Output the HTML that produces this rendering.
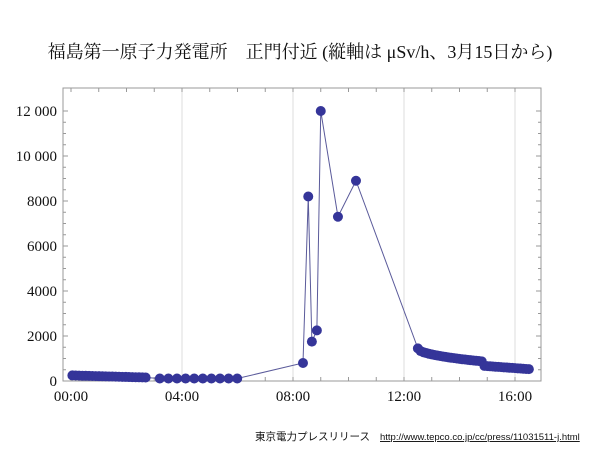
<!DOCTYPE html>
<html><head><meta charset="utf-8"><style>
body{margin:0;background:#fff;width:600px;height:450px;overflow:hidden}
svg{position:absolute;left:0;top:0}
</style></head><body>
<svg id="s" width="600" height="450" xmlns="http://www.w3.org/2000/svg" font-family="Liberation Serif, Noto Serif CJK SC, serif">
<text x="300" y="58" text-anchor="middle" font-size="18" fill="#111" font-family="Liberation Serif, Noto Serif CJK JP, Noto Sans CJK JP, serif">福島第一原子力発電所　正門付近 (縦軸は μSv/h、3月15日から)</text>
<g stroke="#ddd" stroke-width="1">
<line x1="182" y1="88" x2="182" y2="381"/><line x1="293" y1="88" x2="293" y2="381"/><line x1="404" y1="88" x2="404" y2="381"/><line x1="515" y1="88" x2="515" y2="381"/>
</g>
<rect x="63" y="88" width="478" height="293" fill="none" stroke="#999" stroke-width="1"/>
<g id="ticks" stroke="#999" stroke-width="1"></g>
<g font-size="15" fill="#111" text-anchor="end">
<text x="57" y="116">12 000</text><text x="57" y="161">10 000</text><text x="57" y="206">8000</text><text x="57" y="251">6000</text><text x="57" y="296">4000</text><text x="57" y="341">2000</text><text x="57" y="386">0</text>
</g>
<g font-size="15" fill="#111" text-anchor="middle">
<text x="71" y="401">00:00</text><text x="182" y="401">04:00</text><text x="293" y="401">08:00</text><text x="404" y="401">12:00</text><text x="515" y="401">16:00</text>
</g>
<polyline id="pl" fill="none" stroke="#5a5a9a" stroke-width="1"/>
<g id="pts" fill="#353599"></g>
<text x="255" y="440" font-size="10.5" fill="#111" font-family="Liberation Sans, Noto Sans CJK JP, sans-serif">東京電力プレスリリース</text>
<text x="380" y="440" font-size="9.5" fill="#111" text-decoration="underline" font-family="Liberation Sans, sans-serif">http://www.tepco.co.jp/cc/press/11031511-j.html</text>
</svg>
<script>
var X=h=>71+h*27.75,Y=v=>381-v*0.0225;
var t=document.getElementById('ticks'),s='';
for(var h=0;h<=16;h++){var x=X(h);s+='<line x1="'+x+'" y1="88" x2="'+x+'" y2="92"/><line x1="'+x+'" y1="381" x2="'+x+'" y2="377"/>';}
for(var v=0;v<=12000;v+=500){var y=Y(v),l=v%2000==0?5:3;s+='<line x1="63" y1="'+y+'" x2="'+(63+l)+'" y2="'+y+'"/><line x1="541" y1="'+y+'" x2="'+(541-l)+'" y2="'+y+'"/>';}
t.innerHTML=s;
var d=[];
for(var h=0.05;h<=2.7;h+=0.12)d.push([h,250-h*35]);
for(var h=3.2;h<=6.05;h+=0.31)d.push([h,110]);
d.push([8.36,800],[8.55,8200],[8.68,1750],[8.86,2250],[9.0,12000],[9.62,7300],[10.27,8900]);
for(var h=12.5;h<=16.55;h+=0.1){var v=h<14.8?1450-Math.sqrt(h-12.5)*380:680-(h-14.8)*90;d.push([h,v]);}
document.getElementById('pl').setAttribute('points',d.map(p=>X(p[0])+','+Y(p[1])).join(' '));
document.getElementById('pts').innerHTML=d.map(p=>'<circle cx="'+X(p[0])+'" cy="'+Y(p[1])+'" r="5"/>').join('');
</script>
</body></html>
